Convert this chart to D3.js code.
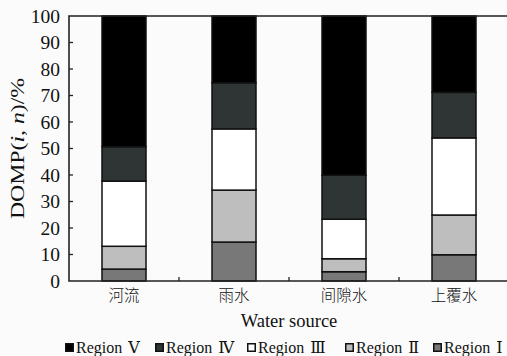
<!DOCTYPE html>
<html>
<head>
<meta charset="utf-8">
<script src="https://cdn.jsdelivr.net/npm/d3@7/dist/d3.min.js"></script>
<style>
  html, body { margin: 0; padding: 0; background: #fbfbfb; }
  svg { display: block; }
  text { font-family: "Liberation Serif", "Times New Roman", serif; fill: #111; }
</style>
</head>
<body>
<svg id="chart" width="507" height="356"></svg>
<script>
// Water sources on the x axis
const categories = ["河流", "雨水", "间隙水", "上覆水"];
// Share of each region (%), stacked from Region I at the bottom to Region V on top
const regionI   = [4.5, 14.7, 3.5, 9.9];
const regionII  = [8.6, 19.6, 4.9, 15.0];
const regionIII = [24.6, 23.1, 14.9, 29.1];
const regionIV  = [13.0, 17.4, 16.6, 17.2];
const regionV   = [49.3, 25.2, 60.1, 28.8];
const seriesNames = ["Region Ⅰ", "Region Ⅱ", "Region Ⅲ", "Region Ⅳ", "Region Ⅴ"];
const seriesColors = ["#787878", "#bebebe", "#ffffff", "#2f3434", "#000000"];
const yTicks = [0, 10, 20, 30, 40, 50, 60, 70, 80, 90, 100];
const legendOrder = ["Region Ⅴ", "Region Ⅳ", "Region Ⅲ", "Region Ⅱ", "Region Ⅰ"];

const seriesValues = [regionI, regionII, regionIII, regionIV, regionV];
const rows = categories.map((c, i) => {
  const r = { source: c };
  seriesNames.forEach((s, k) => { r[s] = seriesValues[k][i]; });
  return r;
});

const svg = d3.select("#chart");
const margin = { left: 69, top: 16, right: -2, bottom: 75 };
const W = 507, H = 356;

const x = d3.scaleBand().domain(categories)
  .range([margin.left, W - margin.right]).paddingInner(0.6).paddingOuter(0.3);
const y = d3.scaleLinear().domain([0, 100]).range([H - margin.bottom, margin.top]);
const color = d3.scaleOrdinal().domain(seriesNames).range(seriesColors);

const stack = d3.stack().keys(seriesNames)(rows);

// Stacked bars
svg.append("g").selectAll("g").data(stack).join("g")
  .attr("fill", d => color(d.key))
  .selectAll("rect").data(d => d).join("rect")
  .attr("x", d => x(d.data.source))
  .attr("width", x.bandwidth())
  .attr("y", d => y(d[1]))
  .attr("height", d => y(d[0]) - y(d[1]))
  .attr("stroke", "#111")
  .attr("stroke-width", 1.5);

// Plot frame: top, left and bottom lines
const x0 = margin.left, x1 = W - margin.right, yTop = y(100), yBot = y(0);
svg.append("path")
  .attr("d", `M${x1},${yTop}H${x0}V${yBot}H${x1}`)
  .attr("fill", "none").attr("stroke", "#222").attr("stroke-width", 1.6);

// Small ticks between categories on the x axis
const step = x.step();
const catBoundaries = categories.slice(1).map(c => x(c) - (step - x.bandwidth()) / 2);
svg.append("g").selectAll("line").data(catBoundaries).join("line")
  .attr("x1", d => d).attr("x2", d => d)
  .attr("y1", yBot).attr("y2", yBot - 4)
  .attr("stroke", "#222").attr("stroke-width", 1.3);

// Inward tick marks on the y axis
svg.append("g").selectAll("line").data(yTicks.slice(1, -1)).join("line")
  .attr("x1", x0).attr("x2", x0 + 4)
  .attr("y1", d => y(d)).attr("y2", d => y(d))
  .attr("stroke", "#222").attr("stroke-width", 1.3);

// Y tick labels
const yAxis = d3.axisLeft(y).tickValues(yTicks).tickSize(0).tickPadding(9);
const gy = svg.append("g").attr("transform", `translate(${x0},0)`).call(yAxis);
gy.select(".domain").remove();
gy.selectAll("text")
  .style("font-family", '"Liberation Serif", serif')
  .style("font-size", "19.5px").attr("fill", "#111");

// X category labels
const xAxis = d3.axisBottom(x).tickSize(0).tickPadding(9);
const gx = svg.append("g").attr("transform", `translate(0,${yBot})`).call(xAxis);
gx.select(".domain").remove();
gx.selectAll("text")
  .style("font-family", '"Noto Sans CJK SC", sans-serif')
  .style("font-weight", "300")
  .style("font-size", "15.5px").attr("fill", "#222");

// Axis titles
svg.append("text")
  .attr("x", (x0 + 507 + 2) / 2).attr("y", 327)
  .attr("text-anchor", "middle").style("font-size", "18.5px")
  .text("Water source");

const yl = svg.append("text")
  .attr("transform", `translate(24,${(yTop + yBot) / 2}) rotate(-90) scale(1.25,1)`)
  .attr("text-anchor", "middle").style("font-size", "19px");
yl.append("tspan").text("DOMP(");
yl.append("tspan").style("font-style", "italic").text("i");
yl.append("tspan").text(", ");
yl.append("tspan").style("font-style", "italic").text("n");
yl.append("tspan").text(")/%");

// Legend
const legendX = [65, 155, 247, 345, 433];
const lg = svg.append("g").selectAll("g").data(legendOrder).join("g")
  .attr("transform", (d, i) => `translate(${legendX[i]},343)`);
lg.append("rect")
  .attr("x", 0.75).attr("y", 0.75).attr("width", 7.5).attr("height", 7.5)
  .attr("fill", d => color(d)).attr("stroke", "#111").attr("stroke-width", 1.5);
const lt = lg.append("text")
  .attr("x", 11).attr("y", 9.5)
  .style("font-size", "16px");
lt.append("tspan").text(d => d.split(" ")[0] + " ");
lt.append("tspan")
  .attr("dx", 2)
  .style("font-family", '"DejaVu Serif", serif')
  .style("font-size", "16px")
  .text(d => d.split(" ")[1]);
</script>
</body>
</html>
